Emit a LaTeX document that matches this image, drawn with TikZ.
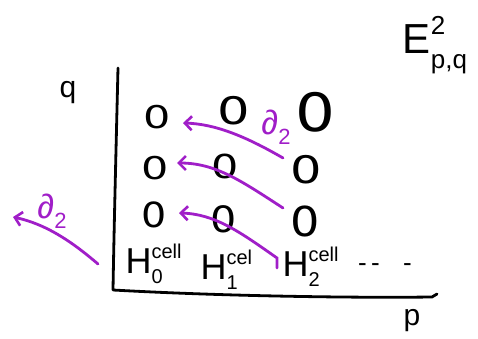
\documentclass[tikz,border=0pt]{standalone}
\usepackage{fontspec}
\setmainfont{Liberation Sans}
\newfontfamily\zerofont{DejaVu Sans}
\usetikzlibrary{arrows.meta}
\definecolor{dpurple}{RGB}{160,30,200}
\newcommand\fs[1]{\fontsize{#1}{#1}\selectfont}
\newcommand\Hlab[2]{H\rlap{\raisebox{0.42em}{\fs{20}#2}}\raisebox{-0.28em}{\fs{20}#1}}
\newcommand\Z[2]{\scalebox{#1}[#2]{0}}
\begin{document}
\begin{tikzpicture}[x=1pt,y=-1pt,
  axis/.style={line width=2.8pt,black,line cap=round,line join=round},
  diff/.style={line width=2.8pt,dpurple,line cap=round,-{Straight Barb[length=7pt,width=14pt,line width=2.6pt]}},
  zero/.style={font=\zerofont\fs{33}, inner sep=0pt},
  lab/.style={font=\fs{30}},
  dlab/.style={font=\fs{34},text=dpurple},
  hlab/.style={font=\fs{36},anchor=west}]
\useasboundingbox (0,0) rectangle (478,339);
% axes
\coordinate (ytop) at (118,68);
\coordinate (org) at (113,290);
\coordinate (xend) at (437,294);
\draw[axis] (ytop) .. controls (116,150) and (114,230) .. (org)
  .. controls (220,296) and (350,298) .. (432,297) -- (xend);
\node[lab] (q) at (68,93) {q};
\node[lab] (p) at (412,321) {p};
\node (E) at (435,45) {\fs{42}E\rlap{\raisebox{0.45em}{\fs{26}2}}\raisebox{-0.35em}{\fs{26}p,q}};
% zeros
\node[zero] (z11) at (157,117) {\Z{1.3}{0.95}};
\node[zero] (z21) at (234,111) {\Z{1.55}{1.15}};
\node[zero] (z31) at (315,112) {\Z{1.9}{1.6}};
\node[zero] (z12) at (155,168) {\Z{1.3}{0.95}};
\node[zero] (z22) at (225,166) {\Z{1.3}{1.0}};
\node[zero] (z32) at (306,170) {\Z{1.5}{1.15}};
\node[zero] (z13) at (154,215) {\Z{1.2}{1.05}};
\node[zero] (z23) at (224,219) {\Z{1.25}{1.1}};
\node[zero] (z33) at (305,221) {\Z{1.4}{1.25}};
% bottom row labels
\node[hlab] (h0) at (122,264) {\Hlab{0}{cell}};
\node[hlab] (h1) at (197,270) {\Hlab{1}{cel}};
\node[hlab] (h2) at (279,267) {\Hlab{2}{cell}};
\node[font=\fs{26}] (dots) at (385,268) {-\,-\hspace{0.9em}-};
% differentials
\coordinate (a1s) at (283,158); \coordinate (a1e) at (183,123);
\coordinate (a2s) at (283,208); \coordinate (a2e) at (177,163);
\coordinate (a3s) at (277,268); \coordinate (a3e) at (179,213);
\coordinate (a4s) at (98,264);  \coordinate (a4e) at (13,217);
\draw[diff] (a1s) .. controls (245,136) and (215,124) .. (a1e);
\draw[diff] (a2s) .. controls (240,180) and (215,163) .. (a2e);
\draw[diff] (a3s) -- (277,258) .. controls (240,232) and (215,214) .. (a3e);
\draw[diff] (a4s) .. controls (70,240) and (45,224) .. (a4e);
\node[dlab] (d1) at (276,127) {∂\raisebox{-0.3em}{\fs{22}2}};
\node[dlab] (d0) at (52,211) {∂\raisebox{-0.3em}{\fs{22}2}};
\end{tikzpicture}
\end{document}
